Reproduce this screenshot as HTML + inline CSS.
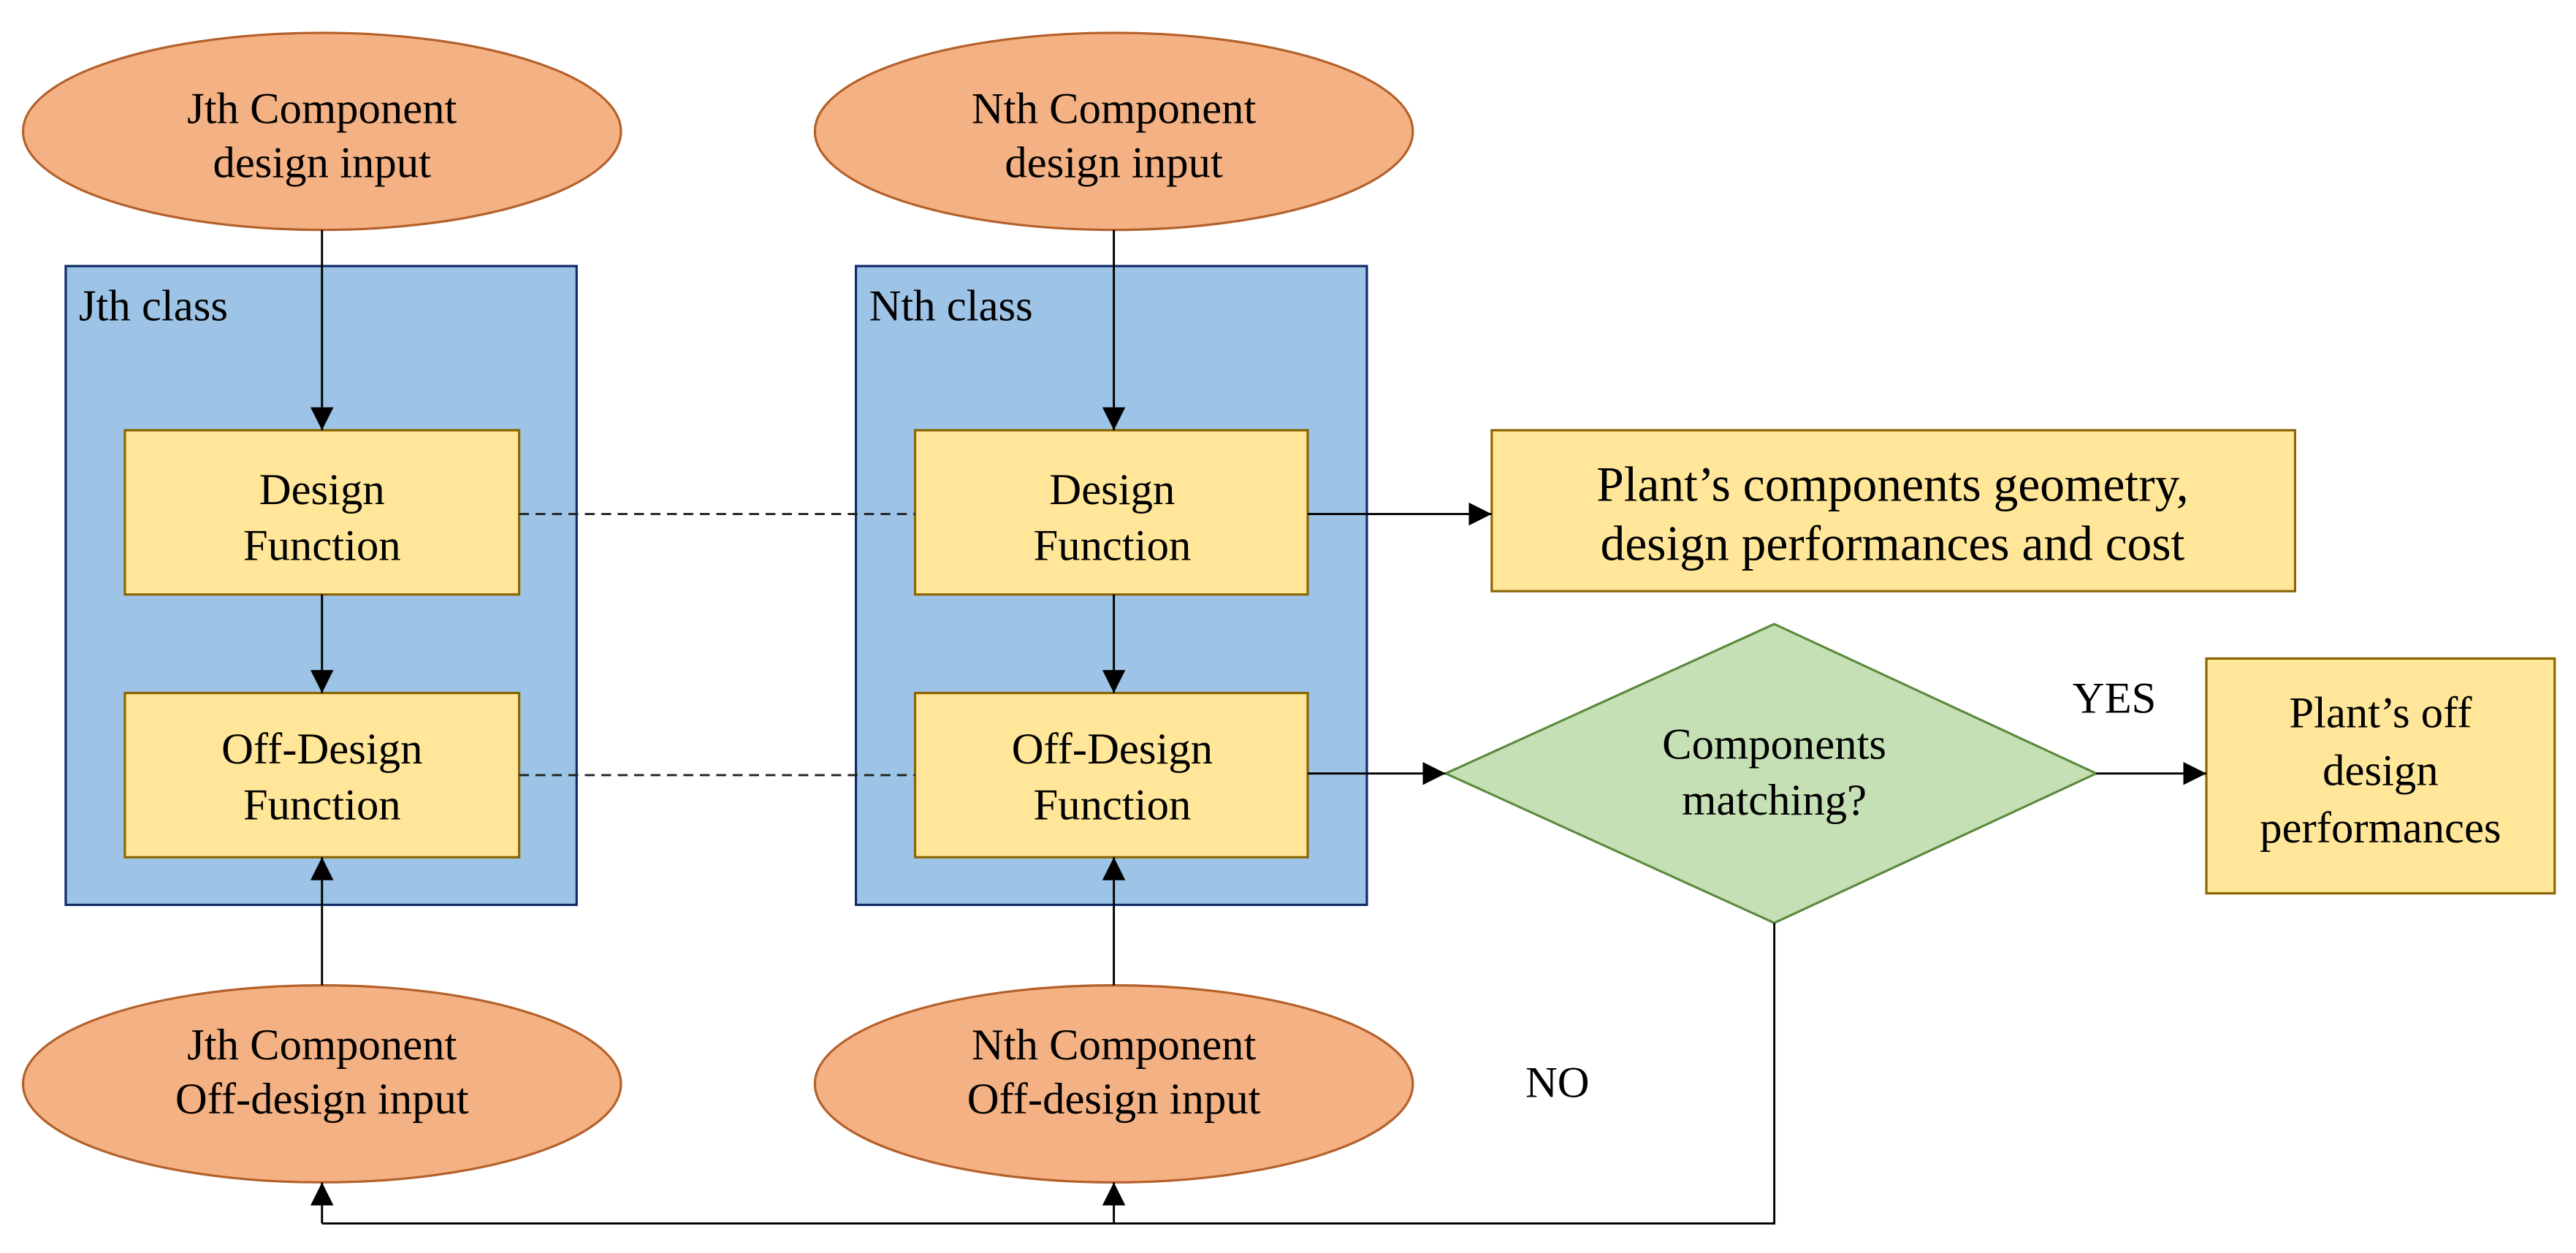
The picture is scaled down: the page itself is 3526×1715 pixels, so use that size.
<!DOCTYPE html>
<html><head><meta charset="utf-8"><style>
html,body{margin:0;padding:0;background:#fff;}
svg{display:block;}
text{font-family:"Liberation Serif",serif;font-size:27px;fill:#000;text-anchor:middle;}
</style></head><body>
<svg width="3526" height="1715" viewBox="0 0 1568 763" preserveAspectRatio="none" xmlns="http://www.w3.org/2000/svg">
<defs>
<marker id="b" viewBox="0 0 10 10" refX="10" refY="5" markerWidth="14" markerHeight="14" markerUnits="userSpaceOnUse" orient="auto">
<path d="M0,0 L10,5 L0,10 z" fill="#000"/></marker>
</defs>
<g stroke-width="1.4">
<rect x="40" y="162" width="311" height="389" fill="#9DC3E6" stroke="#0f2a66"/>
<rect x="521" y="162" width="311" height="389" fill="#9DC3E6" stroke="#0f2a66"/>
<ellipse cx="196" cy="80" rx="182" ry="60" fill="#F4B183" stroke="#b4602a"/>
<ellipse cx="678" cy="80" rx="182" ry="60" fill="#F4B183" stroke="#b4602a"/>
<ellipse cx="196" cy="660" rx="182" ry="60" fill="#F4B183" stroke="#b4602a"/>
<ellipse cx="678" cy="660" rx="182" ry="60" fill="#F4B183" stroke="#b4602a"/>
<rect x="76" y="262" width="240" height="100" fill="#FFE699" stroke="#8a6500"/>
<rect x="557" y="262" width="239" height="100" fill="#FFE699" stroke="#8a6500"/>
<rect x="76" y="422" width="240" height="100" fill="#FFE699" stroke="#8a6500"/>
<rect x="557" y="422" width="239" height="100" fill="#FFE699" stroke="#8a6500"/>
<rect x="908" y="262" width="489" height="98" fill="#FFE699" stroke="#8a6500"/>
<rect x="1343" y="401" width="212" height="143" fill="#FFE699" stroke="#8a6500"/>
<polygon points="1080,380 1276,471 1080,562 880,471" fill="#C5E0B4" stroke="#5a8a3c"/>
</g>
<g stroke="#000" stroke-width="1.3" fill="none">
<line x1="196" y1="140" x2="196" y2="262" marker-end="url(#b)"/>
<line x1="678" y1="140" x2="678" y2="262" marker-end="url(#b)"/>
<line x1="196" y1="362" x2="196" y2="422" marker-end="url(#b)"/>
<line x1="678" y1="362" x2="678" y2="422" marker-end="url(#b)"/>
<line x1="196" y1="600" x2="196" y2="522" marker-end="url(#b)"/>
<line x1="678" y1="600" x2="678" y2="522" marker-end="url(#b)"/>
<line x1="796" y1="313" x2="908" y2="313" marker-end="url(#b)"/>
<line x1="796" y1="471" x2="880" y2="471" marker-end="url(#b)"/>
<line x1="1276" y1="471" x2="1343" y2="471" marker-end="url(#b)"/>
<line x1="316" y1="313" x2="557" y2="313" stroke-dasharray="6,4" stroke="#222"/>
<line x1="316" y1="472" x2="557" y2="472" stroke-dasharray="6,4" stroke="#222"/>
<polyline points="1080,562 1080,745 196,745"/>
<line x1="196" y1="745" x2="196" y2="720" marker-end="url(#b)"/>
<line x1="678" y1="745" x2="678" y2="720" marker-end="url(#b)"/>
</g>
<text x="196" y="75">Jth Component</text>
<text x="196" y="108">design input</text>
<text x="678" y="75">Nth  Component</text>
<text x="678" y="108">design input</text>
<text x="196" y="645">Jth Component</text>
<text x="196" y="678">Off-design input</text>
<text x="678" y="645">Nth  Component</text>
<text x="678" y="678">Off-design input</text>
<text x="48" y="195" style="text-anchor:start">Jth class</text>
<text x="529" y="195" style="text-anchor:start">Nth  class</text>
<text x="196" y="307">Design</text>
<text x="196" y="341">Function</text>
<text x="677" y="307">Design</text>
<text x="677" y="341">Function</text>
<text x="196" y="465">Off-Design</text>
<text x="196" y="499">Function</text>
<text x="677" y="465">Off-Design</text>
<text x="677" y="499">Function</text>
<text x="1152" y="305" style="font-size:30px">Plant’s components geometry,</text>
<text x="1152" y="341" style="font-size:30px">design performances and cost</text>
<text x="1080" y="462">Components</text>
<text x="1080" y="496">matching?</text>
<text x="1449" y="443">Plant’s off</text>
<text x="1449" y="478">design</text>
<text x="1449" y="513">performances</text>
<text x="1287" y="434">YES</text>
<text x="948" y="668">NO</text>
</svg>
</body></html>
